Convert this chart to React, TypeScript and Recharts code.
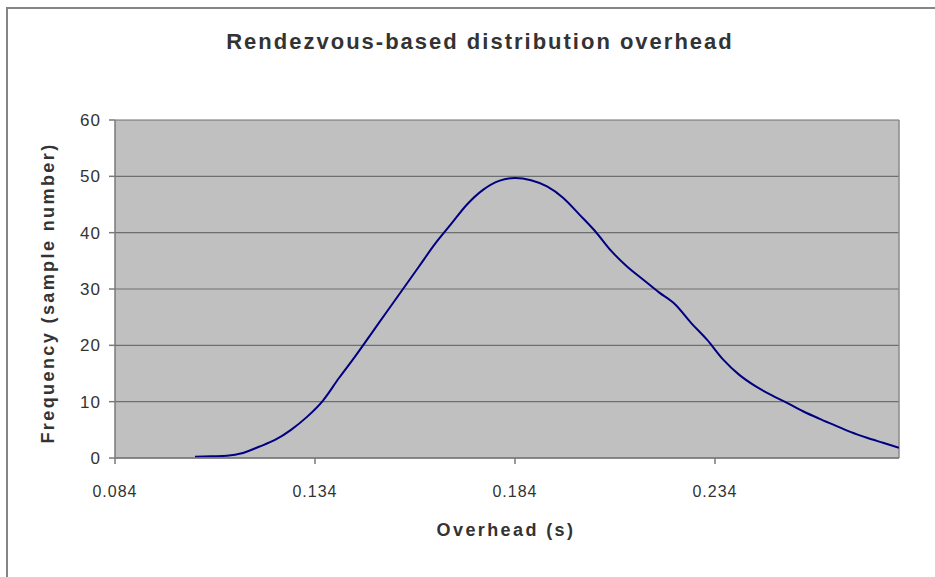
import React from "react";
import {
  LineChart,
  Line,
  XAxis,
  YAxis,
  CartesianGrid,
  ReferenceLine,
} from "recharts";

const overheadValues: number[] = [
  0.104, 0.108, 0.112, 0.116, 0.12, 0.124, 0.128, 0.132, 0.136, 0.14, 0.144,
  0.148, 0.152, 0.156, 0.16, 0.164, 0.168, 0.172, 0.176, 0.18, 0.184, 0.188,
  0.192, 0.196, 0.2, 0.204, 0.208, 0.212, 0.216, 0.22, 0.224, 0.228, 0.232,
  0.236, 0.24, 0.244, 0.248, 0.252, 0.256, 0.26, 0.264, 0.268, 0.272, 0.276,
  0.28,
];

const frequencyValues: number[] = [
  0.2, 0.3, 0.4, 0.9, 2.0, 3.2, 5.0, 7.3, 10.2, 14.2, 18.0, 22.0, 26.0, 30.0,
  34.0, 38.0, 41.5, 45.0, 47.6, 49.2, 49.7, 49.3, 48.2, 46.2, 43.3, 40.3, 36.8,
  34.0, 31.7, 29.4, 27.3, 24.0, 21.0, 17.5, 14.8, 12.8, 11.2, 9.8, 8.3, 7.0,
  5.8, 4.6, 3.6, 2.7, 1.8,
];

const xTicks: number[] = [0.084, 0.134, 0.184, 0.234];
const yTicks: number[] = [0, 10, 20, 30, 40, 50, 60];

const titleText = "Rendezvous-based distribution overhead";
const xLabelText = "Overhead (s)";
const yLabelText = "Frequency (sample number)";

const data = overheadValues.map((x, i) => ({ x, y: frequencyValues[i] }));

const FONT = "'Liberation Sans', Arial, sans-serif";
const TEXT = "#333333";

export default function App() {
  return (
    <div
      style={{
        position: "absolute",
        left: 0,
        top: 0,
        width: 935,
        height: 577,
        overflow: "hidden",
        background: "#ffffff",
        fontFamily: FONT,
      }}
    >
      <div
        style={{
          position: "absolute",
          left: 6,
          top: 7,
          width: 960,
          height: 600,
          borderTop: "2px solid #858585",
          borderLeft: "2px solid #858585",
        }}
      />
      <div
        style={{
          position: "absolute",
          left: 0,
          width: 935,
          top: 29,
          textAlign: "center",
          paddingLeft: 25,
          boxSizing: "border-box",
          fontSize: 22,
          fontWeight: "bold",
          letterSpacing: 2,
          color: TEXT,
          whiteSpace: "nowrap",
        }}
      >
        {titleText}
      </div>
      <div style={{ position: "absolute", left: 0, top: 0 }}>
        <LineChart
          width={935}
          height={577}
          data={data}
          margin={{ top: 120, right: 36, bottom: 79, left: 0 }}
        >
          <CartesianGrid
            horizontal={true}
            vertical={false}
            fill="#C0C0C0"
            stroke="#6e6e6e"
            strokeWidth={1.2}
          />
          <XAxis
            dataKey="x"
            type="number"
            domain={[0.084, 0.28]}
            ticks={xTicks}
            allowDataOverflow
            height={40}
            tickSize={6}
            tickMargin={22}
            stroke="#7a7a7a"
            strokeWidth={1.5}
            tick={{
              fill: TEXT,
              fontSize: 16,
              fontFamily: FONT,
              letterSpacing: 1,
            }}
            tickFormatter={(v: number) => v.toFixed(3)}
          />
          <YAxis
            type="number"
            domain={[0, 60]}
            ticks={yTicks}
            width={115}
            tickSize={6}
            tickMargin={8}
            stroke="#7a7a7a"
            strokeWidth={1.5}
            tick={{
              fill: TEXT,
              fontSize: 17,
              fontFamily: FONT,
              letterSpacing: 1,
            }}
          />
          <ReferenceLine x={0.28} stroke="#8a8a8a" strokeWidth={1.5} />
          <Line
            type="monotone"
            dataKey="y"
            stroke="#000080"
            strokeWidth={2}
            dot={false}
            isAnimationActive={false}
          />
        </LineChart>
      </div>
      <div
        style={{
          position: "absolute",
          left: 0,
          width: 1012,
          top: 520,
          textAlign: "center",
          fontSize: 18,
          fontWeight: "bold",
          letterSpacing: 2.4,
          color: TEXT,
          whiteSpace: "nowrap",
        }}
      >
        {xLabelText}
      </div>
      <div
        style={{
          position: "absolute",
          left: 48,
          top: 293,
          transform: "translate(-50%, -50%) rotate(-90deg)",
          fontSize: 18,
          fontWeight: "bold",
          letterSpacing: 2.4,
          color: TEXT,
          whiteSpace: "nowrap",
        }}
      >
        {yLabelText}
      </div>
    </div>
  );
}
